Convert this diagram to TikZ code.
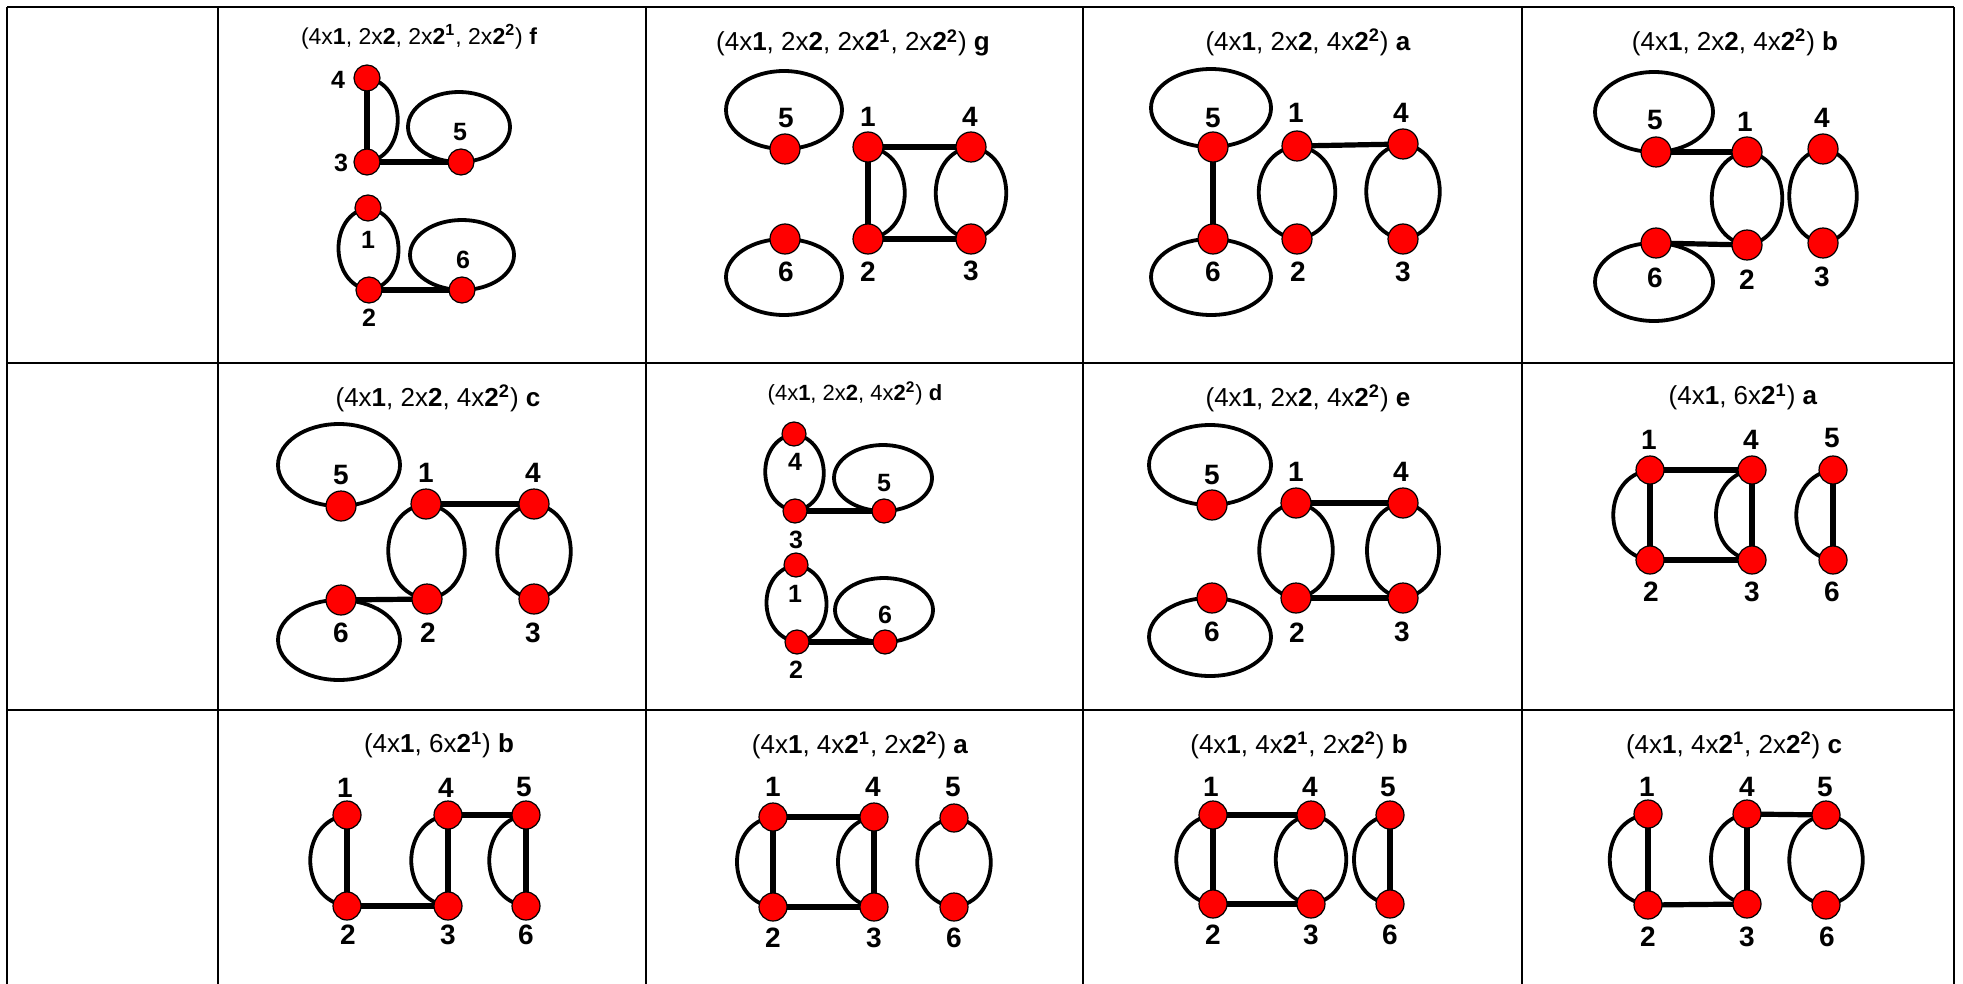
\documentclass[tikz,border=0pt]{standalone}
\usepackage{fontspec}
\setmainfont{Liberation Sans}
\pgfdeclarelayer{bg}
\pgfsetlayers{bg,main}
\tikzset{
 vtx/.style={circle,fill=red,draw=black,line width=0.6pt,inner sep=0pt,minimum size=15pt},
 vtxs/.style={vtx,minimum size=14pt},
 vtxf/.style={vtx,minimum size=13pt},
 vtxd/.style={vtx,minimum size=12pt},
 lab/.style={inner sep=0pt,font=\bfseries\fontsize{14}{14}\selectfont},
 labs/.style={inner sep=0pt,font=\bfseries\fontsize{12.5}{13}\selectfont},
 ttl/.style={inner sep=0pt,font=\fontsize{13}{15}\selectfont},
 ttlf/.style={inner sep=0pt,font=\fontsize{11.5}{13}\selectfont},
 ttld/.style={inner sep=0pt,font=\fontsize{11}{13}\selectfont},
 sedge/.style={line width=2.6pt},
 cedge/.style={line width=1.9pt},
 gridline/.style={line width=1.3pt},
}
\newcommand\myLarc[3]{\draw[cedge] (#1.center) .. controls +(-#3,6) and +(-#3,-6) .. (#2.center);}
\newcommand\myRarc[3]{\draw[cedge] (#1.center) .. controls +(#3,6) and +(#3,-6) .. (#2.center);}
\newcommand\dblarc[3]{\myLarc{#1}{#2}{#3}\myRarc{#1}{#2}{#3}}
\newcommand\selfloop[5]{\draw[cedge] ([shift={(#2,#3)}]#1.center) ellipse [x radius=#4*0.5pt, y radius=#5*0.5pt];}
\newcommand\tsa[1]{(4x\textbf{1}, 2x\textbf{2}, 2x\textbf{2\textsuperscript{1}}, 2x\textbf{2\textsuperscript{2}}) \textbf{#1}}
\newcommand\tsb[1]{(4x\textbf{1}, 2x\textbf{2}, 4x\textbf{2\textsuperscript{2}}) \textbf{#1}}
\newcommand\tsc[1]{(4x\textbf{1}, 6x\textbf{2\textsuperscript{1}}) \textbf{#1}}
\newcommand\tsd[1]{(4x\textbf{1}, 4x\textbf{2\textsuperscript{1}}, 2x\textbf{2\textsuperscript{2}}) \textbf{#1}}
\begin{document}
\begin{tikzpicture}[x=0.5pt,y=-0.5pt]
\useasboundingbox (0,0) rectangle (1963,984);
% grid
\foreach \yy in {7,363,710} {\draw[gridline] (7,\yy) -- (1954,\yy);}
\foreach \xx in {7,218,646,1083,1522,1954} {\draw[gridline] (\xx,7) -- (\xx,984);}

% ---------- Cell F ----------
\node[ttlf] (tf) at (419,37) {\tsa{f}};
\node[vtxf] (f4) at (367,78) {};
\node[vtxf] (f3) at (367,162) {};
\node[vtxf] (f5) at (461,162) {};
\node[vtxf] (f1) at (368,208) {};
\node[vtxf] (f2) at (369,290) {};
\node[vtxf] (f6) at (462,290) {};
\node[labs] (f4l) at (338,80) {4};
\node[labs] (f3l) at (341,163) {3};
\node[labs] (f5l) at (460,132) {5};
\node[labs] (f1l) at (368,240) {1};
\node[labs] (f6l) at (463,260) {6};
\node[labs] (f2l) at (369,318) {2};

% ---------- Cell G ----------
\node[ttl] (tg) at (853,43) {\tsa{g}};
\node[vtx] (g5) at (785,149) {};
\node[vtx] (g6) at (785,239) {};
\node[vtx] (g1) at (868,147) {};
\node[vtx] (g4) at (971,147) {};
\node[vtx] (g2) at (868,239) {};
\node[vtx] (g3) at (971,239) {};
\node[lab] (g5l) at (786,118) {5};
\node[lab] (g1l) at (868,117) {1};
\node[lab] (g4l) at (970,117) {4};
\node[lab] (g6l) at (786,272) {6};
\node[lab] (g2l) at (868,272) {2};
\node[lab] (g3l) at (971,271) {3};

% ---------- Cell A ----------
\node[ttl] (ta) at (1308,42) {\tsb{a}};
\node[vtx] (a5) at (1213,147) {};
\node[vtx] (a6) at (1213,239) {};
\node[vtx] (a1) at (1297,146) {};
\node[vtx] (a4) at (1403,144) {};
\node[vtx] (a2) at (1297,239) {};
\node[vtx] (a3) at (1403,239) {};
\node[lab] (a5l) at (1213,118) {5};
\node[lab] (a1l) at (1296,113) {1};
\node[lab] (a4l) at (1401,113) {4};
\node[lab] (a6l) at (1213,272) {6};
\node[lab] (a2l) at (1298,272) {2};
\node[lab] (a3l) at (1403,272) {3};

% ---------- Cell B ----------
\node[ttl] (tb) at (1735,42) {\tsb{b}};
\node[vtx] (b5) at (1656,152) {};
\node[vtx] (b1) at (1747,152) {};
\node[vtx] (b4) at (1823,149) {};
\node[vtx] (b6) at (1656,243) {};
\node[vtx] (b2) at (1747,245) {};
\node[vtx] (b3) at (1823,243) {};
\node[lab] (b5l) at (1655,120) {5};
\node[lab] (b1l) at (1745,122) {1};
\node[lab] (b4l) at (1822,118) {4};
\node[lab] (b6l) at (1655,278) {6};
\node[lab] (b2l) at (1747,280) {2};
\node[lab] (b3l) at (1822,277) {3};

% ---------- Cell C ----------
\node[ttl] (tc) at (438,398) {\tsb{c}};
\node[vtx] (c5) at (341,506) {};
\node[vtx] (c1) at (426,504) {};
\node[vtx] (c4) at (534,504) {};
\node[vtx] (c6) at (341,600) {};
\node[vtx] (c2) at (427,599) {};
\node[vtx] (c3) at (534,599) {};
\node[lab] (c5l) at (341,475) {5};
\node[lab] (c1l) at (426,473) {1};
\node[lab] (c4l) at (533,473) {4};
\node[lab] (c6l) at (341,633) {6};
\node[lab] (c2l) at (428,633) {2};
\node[lab] (c3l) at (533,633) {3};

% ---------- Cell D ----------
\node[ttld] (td) at (855,393) {\tsb{d}};
\node[vtxd] (d4) at (794,434) {};
\node[vtxd] (d3) at (795,511) {};
\node[vtxd] (d5) at (884,511) {};
\node[vtxd] (d1) at (796,565) {};
\node[vtxd] (d2) at (797,642) {};
\node[vtxd] (d6) at (885,642) {};
\node[labs] (d4l) at (795,462) {4};
\node[labs] (d5l) at (884,483) {5};
\node[labs] (d3l) at (796,540) {3};
\node[labs] (d1l) at (795,594) {1};
\node[labs] (d6l) at (885,615) {6};
\node[labs] (d2l) at (796,670) {2};

% ---------- Cell E ----------
\node[ttl] (te) at (1308,398) {\tsb{e}};
\node[vtx] (e5) at (1212,505) {};
\node[vtx] (e1) at (1296,503) {};
\node[vtx] (e4) at (1403,503) {};
\node[vtx] (e6) at (1212,598) {};
\node[vtx] (e2) at (1296,598) {};
\node[vtx] (e3) at (1403,598) {};
\node[lab] (e5l) at (1212,475) {5};
\node[lab] (e1l) at (1296,472) {1};
\node[lab] (e4l) at (1401,472) {4};
\node[lab] (e6l) at (1212,632) {6};
\node[lab] (e2l) at (1297,633) {2};
\node[lab] (e3l) at (1402,632) {3};

% ---------- Cell H ----------
\node[ttl] (th) at (1743,397) {\tsc{a}};
\node[vtxs] (h1) at (1650,470) {};
\node[vtxs] (h4) at (1752,470) {};
\node[vtxs] (h5) at (1833,470) {};
\node[vtxs] (h2) at (1650,560) {};
\node[vtxs] (h3) at (1752,560) {};
\node[vtxs] (h6) at (1833,560) {};
\node[lab] (h1l) at (1649,440) {1};
\node[lab] (h4l) at (1751,440) {4};
\node[lab] (h5l) at (1832,438) {5};
\node[lab] (h2l) at (1651,592) {2};
\node[lab] (h3l) at (1752,592) {3};
\node[lab] (h6l) at (1832,592) {6};

% ---------- Cell I ----------
\node[ttl] (ti) at (439,745) {\tsc{b}};
\node[vtxs] (i1) at (347,815) {};
\node[vtxs] (i2) at (347,906) {};
\node[vtxs] (i4) at (448,815) {};
\node[vtxs] (i3) at (448,906) {};
\node[vtxs] (i5) at (526,815) {};
\node[vtxs] (i6) at (526,906) {};
\node[lab] (i1l) at (345,788) {1};
\node[lab] (i4l) at (446,788) {4};
\node[lab] (i5l) at (524,787) {5};
\node[lab] (i2l) at (348,935) {2};
\node[lab] (i3l) at (448,935) {3};
\node[lab] (i6l) at (526,935) {6};

% ---------- Cell J ----------
\node[ttl] (tj) at (860,745) {\tsd{a}};
\node[vtxs] (j1) at (773,817) {};
\node[vtxs] (j4) at (874,817) {};
\node[vtxs] (j5) at (954,818) {};
\node[vtxs] (j2) at (773,907) {};
\node[vtxs] (j3) at (874,907) {};
\node[vtxs] (j6) at (954,907) {};
\node[lab] (j1l) at (773,787) {1};
\node[lab] (j4l) at (873,787) {4};
\node[lab] (j5l) at (953,787) {5};
\node[lab] (j2l) at (773,938) {2};
\node[lab] (j3l) at (874,938) {3};
\node[lab] (j6l) at (954,938) {6};

% ---------- Cell K ----------
\node[ttl] (tk) at (1299,745) {\tsd{b}};
\node[vtxs] (k1) at (1213,815) {};
\node[vtxs] (k4) at (1311,815) {};
\node[vtxs] (k5) at (1390,815) {};
\node[vtxs] (k2) at (1213,904) {};
\node[vtxs] (k3) at (1311,904) {};
\node[vtxs] (k6) at (1390,904) {};
\node[lab] (k1l) at (1211,787) {1};
\node[lab] (k4l) at (1310,787) {4};
\node[lab] (k5l) at (1388,787) {5};
\node[lab] (k2l) at (1213,935) {2};
\node[lab] (k3l) at (1311,935) {3};
\node[lab] (k6l) at (1390,935) {6};

% ---------- Cell L ----------
\node[ttl] (tl) at (1734,745) {\tsd{c}};
\node[vtxs] (l1) at (1648,814) {};
\node[vtxs] (l4) at (1747,814) {};
\node[vtxs] (l5) at (1826,815) {};
\node[vtxs] (l2) at (1648,905) {};
\node[vtxs] (l3) at (1747,904) {};
\node[vtxs] (l6) at (1826,905) {};
\node[lab] (l1l) at (1647,787) {1};
\node[lab] (l4l) at (1747,787) {4};
\node[lab] (l5l) at (1825,787) {5};
\node[lab] (l2l) at (1648,937) {2};
\node[lab] (l3l) at (1747,937) {3};
\node[lab] (l6l) at (1827,937) {6};

\begin{pgfonlayer}{bg}
% F
\draw[sedge] (f4.center) -- (f3.center);
\myRarc{f4}{f3}{41}
\draw[sedge] (f3.center) -- (f5.center);
\dblarc{f1}{f2}{40}
\draw[sedge] (f2.center) -- (f6.center);
\selfloop{f5}{-2}{-35}{51}{35}
\selfloop{f6}{0}{-35}{52}{35}
% G
\draw[sedge] (g1.center) -- (g4.center);
\draw[sedge] (g2.center) -- (g3.center);
\draw[sedge] (g1.center) -- (g2.center);
\myRarc{g1}{g2}{49}
\dblarc{g4}{g3}{47}
\selfloop{g5}{-1}{-39}{58}{39}
\selfloop{g6}{-1}{38}{58}{38}
% A
\draw[sedge] (a5.center) -- (a6.center);
\draw[sedge] (a1.center) -- (a4.center);
\dblarc{a1}{a2}{51}
\dblarc{a4}{a3}{49}
\selfloop{a5}{-2}{-39}{60}{39}
\selfloop{a6}{-2}{38}{60}{38}
% B
\draw[sedge] (b5.center) -- (b1.center);
\draw[sedge] (b6.center) -- (b2.center);
\dblarc{b1}{b2}{47}
\dblarc{b4}{b3}{45}
\selfloop{b5}{-2}{-40}{59}{40}
\selfloop{b6}{-2}{39}{59}{39}
% C
\draw[sedge] (c1.center) -- (c4.center);
\draw[sedge] (c6.center) -- (c2.center);
\dblarc{c1}{c2}{51}
\dblarc{c4}{c3}{49}
\selfloop{c5}{-2}{-41}{61}{41}
\selfloop{c6}{-2}{40}{61}{40}
% D
\dblarc{d4}{d3}{39}
\dblarc{d1}{d2}{40}
\draw[sedge] (d3.center) -- (d5.center);
\draw[sedge] (d2.center) -- (d6.center);
\selfloop{d5}{-1}{-33}{49}{33}
\selfloop{d6}{-1}{-32}{49}{32}
% E
\draw[sedge] (e1.center) -- (e4.center);
\draw[sedge] (e2.center) -- (e3.center);
\dblarc{e1}{e2}{49}
\dblarc{e4}{e3}{48}
\selfloop{e5}{-2}{-40}{61}{40}
\selfloop{e6}{-2}{39}{61}{39}
% H
\draw[sedge] (h1.center) -- (h4.center);
\draw[sedge] (h2.center) -- (h3.center);
\draw[sedge] (h1.center) -- (h2.center);
\draw[sedge] (h4.center) -- (h3.center);
\draw[sedge] (h5.center) -- (h6.center);
\myLarc{h1}{h2}{49}
\myLarc{h4}{h3}{48}
\myLarc{h5}{h6}{49}
% I
\draw[sedge] (i1.center) -- (i2.center);
\draw[sedge] (i4.center) -- (i3.center);
\draw[sedge] (i5.center) -- (i6.center);
\draw[sedge] (i2.center) -- (i3.center);
\draw[sedge] (i4.center) -- (i5.center);
\myLarc{i1}{i2}{49}
\myLarc{i4}{i3}{49}
\myLarc{i5}{i6}{49}
% J
\draw[sedge] (j1.center) -- (j4.center);
\draw[sedge] (j2.center) -- (j3.center);
\draw[sedge] (j1.center) -- (j2.center);
\draw[sedge] (j4.center) -- (j3.center);
\myLarc{j1}{j2}{48}
\myLarc{j4}{j3}{48}
\dblarc{j5}{j6}{49}
% K
\draw[sedge] (k1.center) -- (k4.center);
\draw[sedge] (k2.center) -- (k3.center);
\draw[sedge] (k1.center) -- (k2.center);
\myLarc{k1}{k2}{49}
\dblarc{k4}{k3}{47}
\draw[sedge] (k5.center) -- (k6.center);
\myLarc{k5}{k6}{48}
% L
\draw[sedge] (l1.center) -- (l2.center);
\myLarc{l1}{l2}{51}
\draw[sedge] (l2.center) -- (l3.center);
\draw[sedge] (l4.center) -- (l3.center);
\myLarc{l4}{l3}{48}
\draw[sedge] (l4.center) -- (l5.center);
\dblarc{l5}{l6}{49}
\end{pgfonlayer}
\end{tikzpicture}
\end{document}
